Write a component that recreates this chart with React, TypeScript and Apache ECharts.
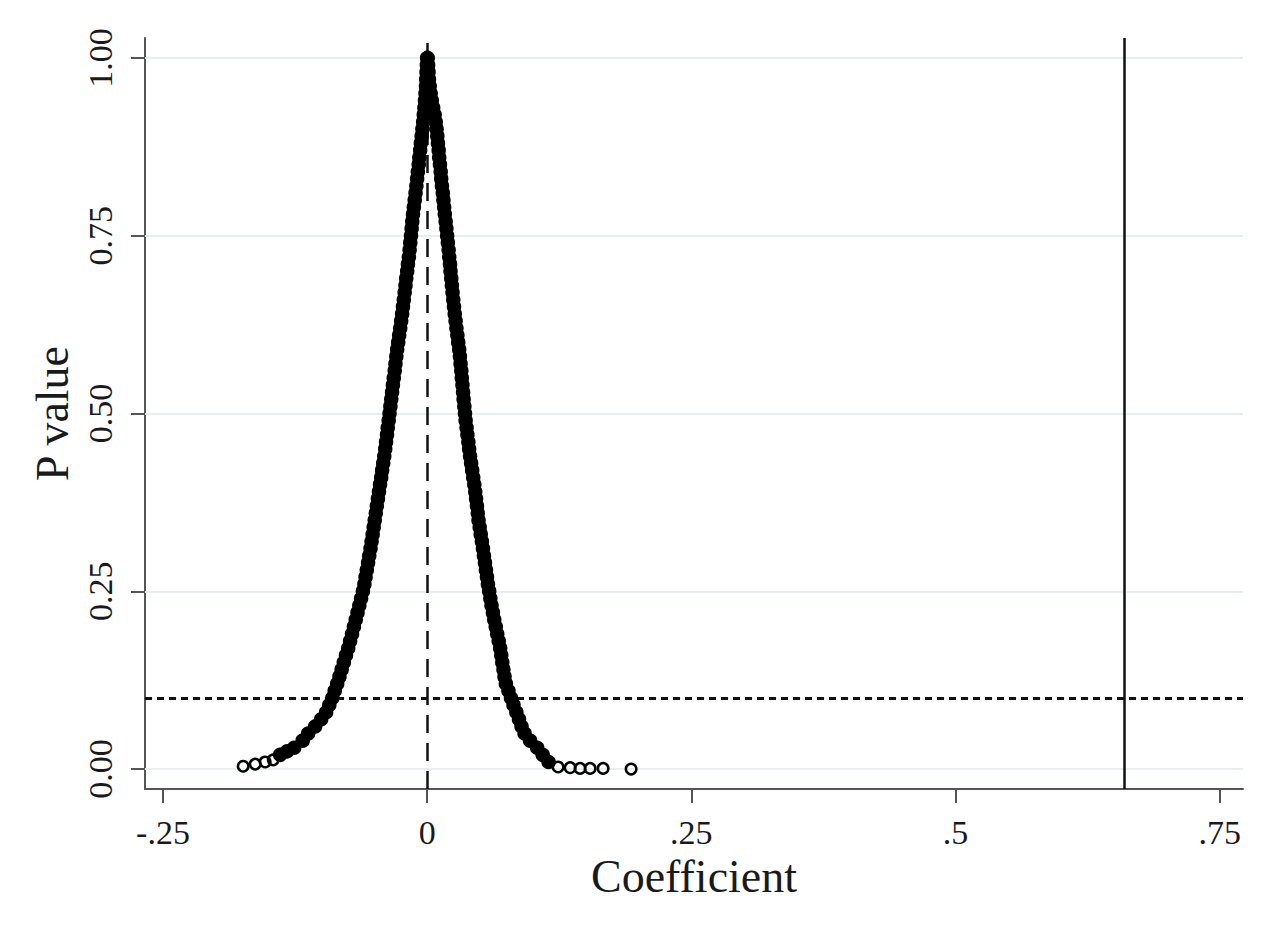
import React, { useEffect, useRef } from "react";
import * as echarts from "echarts";

// p-value levels of the dense band
const pGrid = [
  1.0, 0.99, 0.98, 0.97, 0.96, 0.95, 0.94, 0.93, 0.92, 0.91,
  0.9, 0.89, 0.88, 0.87, 0.86, 0.85, 0.84, 0.83, 0.82, 0.81,
  0.8, 0.79, 0.78, 0.77, 0.76, 0.75, 0.74, 0.73, 0.72, 0.71,
  0.7, 0.69, 0.68, 0.67, 0.66, 0.65, 0.64, 0.63, 0.62, 0.61,
  0.6, 0.59, 0.58, 0.57, 0.56, 0.55, 0.54, 0.53, 0.52, 0.51,
  0.5, 0.49, 0.48, 0.47, 0.46, 0.45, 0.44, 0.43, 0.42, 0.41,
  0.4, 0.39, 0.38, 0.37, 0.36, 0.35, 0.34, 0.33, 0.32, 0.31,
  0.3, 0.29, 0.28, 0.27, 0.26, 0.25, 0.24, 0.23, 0.22, 0.21,
  0.2, 0.19, 0.18, 0.17, 0.16, 0.15, 0.14, 0.13, 0.12, 0.11,
  0.1, 0.09, 0.08, 0.07, 0.06, 0.05, 0.04,
];

// coefficients of the left (negative) branch at each p level
const leftCoef = [
  0.0, -0.0003, -0.0006, -0.0009, -0.0011, -0.0016, -0.0021, -0.0026, -0.0032, -0.0038,
  -0.0045, -0.0052, -0.006, -0.0066, -0.0074, -0.008, -0.0088, -0.0095, -0.0102, -0.011,
  -0.0118, -0.0126, -0.0134, -0.0141, -0.0147, -0.0153, -0.016, -0.0166, -0.0173, -0.0182,
  -0.0189, -0.0198, -0.0205, -0.0213, -0.0221, -0.0229, -0.0237, -0.0246, -0.0255, -0.0265,
  -0.0274, -0.0284, -0.0292, -0.03, -0.0307, -0.0316, -0.0324, -0.0332, -0.034, -0.0348,
  -0.0356, -0.0364, -0.0373, -0.038, -0.0389, -0.0397, -0.0406, -0.0416, -0.0426, -0.0435,
  -0.0446, -0.0456, -0.0466, -0.0476, -0.0486, -0.0496, -0.0506, -0.0516, -0.0526, -0.0536,
  -0.0548, -0.0559, -0.0571, -0.0583, -0.0594, -0.0608, -0.0625, -0.0642, -0.0659, -0.0676,
  -0.0693, -0.0711, -0.0729, -0.0747, -0.0768, -0.0789, -0.0809, -0.083, -0.0851, -0.0875,
  -0.0897, -0.0926, -0.0956, -0.1003, -0.106, -0.1126, -0.1178,
];

// coefficients of the right (positive) branch at each p level
const rightCoef = [
  0.0005, 0.0009, 0.0013, 0.0017, 0.0024, 0.0033, 0.0044, 0.0057, 0.0071, 0.0081,
  0.0089, 0.0096, 0.0102, 0.0109, 0.0114, 0.0121, 0.0128, 0.0133, 0.014, 0.0148,
  0.0154, 0.0161, 0.0167, 0.0175, 0.0182, 0.0189, 0.0196, 0.0203, 0.0209, 0.0216,
  0.0221, 0.0228, 0.0234, 0.024, 0.0247, 0.0254, 0.0261, 0.0269, 0.0277, 0.0286,
  0.0294, 0.0303, 0.031, 0.0316, 0.0323, 0.0328, 0.0334, 0.034, 0.0345, 0.0352,
  0.0358, 0.0364, 0.0373, 0.0381, 0.039, 0.0397, 0.0406, 0.0416, 0.0426, 0.0436,
  0.0446, 0.0455, 0.0463, 0.0471, 0.0479, 0.0486, 0.0497, 0.0507, 0.0518, 0.0528,
  0.0537, 0.0547, 0.0556, 0.0566, 0.0575, 0.0587, 0.0598, 0.0609, 0.0622, 0.0635,
  0.0649, 0.0663, 0.0677, 0.0691, 0.0701, 0.0711, 0.0722, 0.0732, 0.0745, 0.0769,
  0.0793, 0.0817, 0.0844, 0.0869, 0.0893, 0.0922, 0.0974,
];

// low end of the dense band: [coefficient, p]
const leftLowBody = [[-0.1258, 0.03], [-0.1325, 0.025], [-0.1391, 0.02]];
const rightLowBody = [[0.1041, 0.03], [0.1093, 0.02], [0.1149, 0.01]];

// isolated hollow circles in the tails: [coefficient, p]
const leftTail = [[-0.1457, 0.013], [-0.1533, 0.01], [-0.1627, 0.007], [-0.1741, 0.004]];
const rightTail = [
  [0.1239, 0.003], [0.1353, 0.002], [0.1447, 0.001],
  [0.1542, 0.001], [0.1665, 0.001], [0.193, 0.0],
];

// reference lines
const trueCoef = 0.659;
const zeroCoef = 0;
const pThreshold = 0.1;

// axes
const xTickValues = [-0.25, 0, 0.25, 0.5, 0.75];
const xTickLabels = ["-.25", "0", ".25", ".5", ".75"];
const yTickValues = [0, 0.25, 0.5, 0.75, 1];
const yTickLabels = ["0.00", "0.25", "0.50", "0.75", "1.00"];

const FONT = "'Liberation Serif', 'DejaVu Serif', serif";

export default function App() {
  const ref = useRef<HTMLDivElement>(null);

  useEffect(() => {
    if (!ref.current) return;
    const chart = echarts.init(ref.current, undefined, { renderer: "svg" });

    const body = [
      ...pGrid.map((p, i) => [leftCoef[i], p]),
      ...leftLowBody,
      ...pGrid.map((p, i) => [rightCoef[i], p]),
      ...rightLowBody,
    ];
    const tails = [...leftTail, ...rightTail];

    const lookup = (vals: number[], labels: string[]) => (v: number) => {
      const i = vals.findIndex((t) => Math.abs(t - v) < 1e-9);
      return i >= 0 ? labels[i] : "";
    };

    chart.setOption({
      animation: false,
      backgroundColor: "#ffffff",
      grid: {
        left: 145,
        right: 37,
        top: 38,
        bottom: 145,
        containLabel: false,
        outerBoundsMode: "none",
      },
      xAxis: {
        type: "value",
        min: -0.267,
        max: 0.772,
        name: "Coefficient",
        nameLocation: "middle",
        nameGap: 60,
        nameTextStyle: { fontFamily: FONT, fontSize: 46, color: "#1a1a1a" },
        axisLine: { show: true, onZero: false, lineStyle: { color: "#555", width: 2 } },
        axisTick: {
          show: true,
          length: 14,
          customValues: xTickValues,
          lineStyle: { color: "#555", width: 2 },
        },
        axisLabel: {
          customValues: xTickValues,
          margin: 26,
          fontFamily: FONT,
          fontSize: 34,
          color: "#1a1a1a",
          formatter: lookup(xTickValues, xTickLabels),
        },
        splitLine: { show: false },
      },
      yAxis: {
        type: "value",
        min: -0.028,
        max: 1.028,
        name: "P value",
        nameLocation: "middle",
        nameGap: 68,
        nameRotate: 90,
        nameTextStyle: { fontFamily: FONT, fontSize: 46, color: "#1a1a1a" },
        axisLine: { show: true, onZero: false, lineStyle: { color: "#555", width: 2 } },
        axisTick: {
          show: true,
          length: 14,
          customValues: yTickValues,
          lineStyle: { color: "#555", width: 2 },
        },
        axisLabel: {
          customValues: yTickValues,
          rotate: 90,
          margin: 28,
          fontFamily: FONT,
          fontSize: 34,
          color: "#1a1a1a",
          formatter: lookup(yTickValues, yTickLabels),
        },
        splitLine: { show: false },
      },
      series: [
        {
          name: "guides",
          type: "scatter",
          data: [],
          z: 1,
          markLine: {
            silent: true,
            symbol: "none",
            z: 1,
            label: { show: false },
            data: [
              ...yTickValues.map((v) => ({
                yAxis: v,
                lineStyle: { color: "#e6eef0", width: 2, type: "solid" },
              })),
              {
                xAxis: zeroCoef,
                lineStyle: { color: "#111", width: 2.5, type: [18, 10] },
              },
              {
                yAxis: pThreshold,
                lineStyle: { color: "#111", width: 3, type: [7, 5] },
              },
              {
                xAxis: trueCoef,
                lineStyle: { color: "#111", width: 2.5, type: "solid" },
              },
            ],
          },
        },
        {
          name: "body",
          type: "scatter",
          z: 10,
          symbol: "circle",
          symbolSize: 13,
          data: body,
          itemStyle: {
            color: "#000",
            borderColor: "#000",
            borderWidth: 1.5,
            opacity: 1,
          },
        },
        {
          name: "tails",
          type: "scatter",
          z: 10,
          symbol: "circle",
          symbolSize: 10.5,
          data: tails,
          itemStyle: {
            color: "rgba(0,0,0,0)",
            borderColor: "#000",
            borderWidth: 2.5,
            opacity: 1,
          },
        },
      ],
    });

    return () => chart.dispose();
  }, []);

  return (
    <div
      ref={ref}
      style={{ position: "fixed", left: 0, top: 0, width: 1280, height: 934, background: "#fff" }}
    />
  );
}
